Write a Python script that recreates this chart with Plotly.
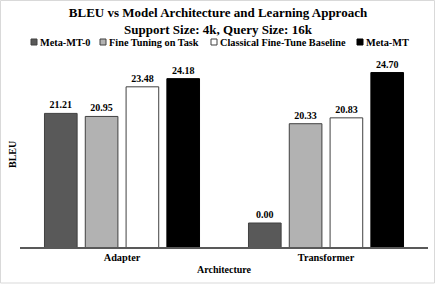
import plotly.graph_objects as go

categories = ["Adapter", "Transformer"]
series_names = ["Meta-MT-0", "Fine Tuning on Task", "Classical Fine-Tune Baseline", "Meta-MT"]
# BLEU values shown in the labels
meta_mt0 = [21.21, 0.00]
fine_tuning = [20.95, 20.33]
classical = [23.48, 20.83]
meta_mt = [24.18, 24.70]
meta_mt0_drawn = [21.21, 11.85]

series_values = [meta_mt0, fine_tuning, classical, meta_mt]
series_drawn = [meta_mt0_drawn, fine_tuning, classical, meta_mt]
fills = ["#595959", "#b2b2b2", "#ffffff", "#000000"]
lines = ["#404040", "#404040", "#404040", "#000000"]

FONT = "Liberation Serif"
W, H = 436, 284
L, R, T, B = 20, 8, 62, 37
PW, PH = W - L - R, H - T - B


def px(x):
    return (x - L) / PW


def py(y):
    return (H - B - y) / PH


fig = go.Figure()
for name, vals, drawn, fc, lc in zip(series_names, series_values, series_drawn, fills, lines):
    fig.add_trace(go.Bar(
        name=name, x=categories, y=drawn,
        text=[f"<b>{v:.2f}</b>" for v in vals],
        textposition="outside", cliponaxis=False,
        textfont=dict(family=FONT, size=10, color="#000000"),
        marker=dict(color=fc, line=dict(color=lc, width=1)),
        showlegend=False,
    ))

# legend drawn as swatches + labels (Excel-style compact legend)
legend_x = [31, 100, 211, 357]
legend_y = 42
shapes = []
annotations = []
for name, fc, lc, lx in zip(series_names, fills, lines, legend_x):
    shapes.append(dict(type="rect", xref="paper", yref="paper",
                       x0=px(lx), x1=px(lx + 6), y0=py(legend_y + 3), y1=py(legend_y - 3),
                       fillcolor=fc, line=dict(color=lc, width=1)))
    annotations.append(dict(text=f"<b>{name}</b>", xref="paper", yref="paper",
                            x=px(lx + 6.5), y=py(legend_y), xanchor="left", yanchor="middle",
                            showarrow=False,
                            font=dict(family=FONT, size=10.3, color="#000000")))

# chart border
shapes.append(dict(type="rect", xref="paper", yref="paper",
                   x0=px(0.5), x1=px(W - 1.5), y0=py(H - 1), y1=py(0.5),
                   line=dict(color="#d9d9d9", width=1)))

annotations.append(dict(text="<b>BLEU</b>", xref="paper", yref="paper",
                        x=px(12), y=py(155), textangle=-90, showarrow=False,
                        xanchor="center", yanchor="middle",
                        font=dict(family=FONT, size=10, color="#000000")))
annotations.append(dict(text="<b>Architecture</b>", xref="paper", yref="paper",
                        x=px(224), y=py(269), showarrow=False,
                        xanchor="center", yanchor="middle",
                        font=dict(family=FONT, size=10, color="#000000")))

fig.update_layout(
    width=W, height=H,
    paper_bgcolor="white", plot_bgcolor="white",
    margin=dict(l=L, r=R, t=T, b=B),
    barmode="group", bargap=0.2, bargroupgap=0.2,
    hovermode=False,
    title=dict(
        text="<b>BLEU vs Model Architecture and Learning Approach<br>Support Size: 4k, Query Size: 16k</b>",
        x=0.5, xanchor="center", y=1 - 17 / H, yanchor="middle",
        font=dict(family=FONT, size=13, color="#000000"),
    ),
    showlegend=False,
    xaxis=dict(
        showline=True, linecolor="#595959", linewidth=1.5,
        ticks="", tickfont=dict(family=FONT, size=10.3, color="#000000"),
        tickprefix="<b>", ticksuffix="</b>", automargin=False,
    ),
    yaxis=dict(
        range=[9.8, 25.6], showticklabels=False, showgrid=False, zeroline=False, showline=False,
        automargin=False,
    ),
    shapes=shapes,
    annotations=annotations,
)

fig.write_html("out.html",
               config={"displayModeBar": False, "staticPlot": True},
               post_script="document.body.style.margin='0';document.body.style.overflow='hidden';")
